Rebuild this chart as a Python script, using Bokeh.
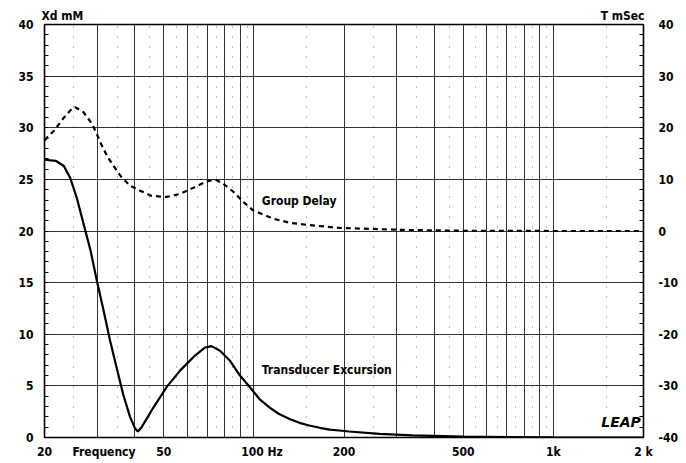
from bokeh.plotting import figure
from bokeh.models import (FixedTicker, LinearAxis, LogAxis, Range1d, Label)
from bokeh.embed import file_html
from bokeh.resources import INLINE

# ---- data ----
freq_gd = [20, 21.5, 23.1, 24.6, 25.3, 27.0, 28.8, 29.9, 30.7, 32.3, 34.0, 36.2, 38.6,
           41.7, 45.6, 51.2, 56.8, 62.9, 69.6, 74.2, 78.9, 85.4, 92.4, 99.4, 115.7,
           131.7, 150, 193, 249, 321, 500, 1000, 2000]
group_delay_ms = [17.6, 19.4, 21.8, 23.6, 24.0, 23.0, 20.8, 18.8, 17.2, 14.6, 12.6, 10.4, 8.8,
                  7.8, 6.8, 6.6, 7.2, 8.4, 9.6, 10.0, 9.2, 7.6, 5.6, 4.0, 2.4,
                  1.6, 1.2, 0.6, 0.4, 0.2, 0.05, 0.0, 0.0]

freq_xd = [20, 21.8, 23.2, 24.4, 25.7, 27.0, 28.5, 29.9, 31.5, 33.1, 34.8, 36.6, 38.6,
           40.2, 41.0, 42.2, 46.2, 51.2, 56.8, 62.9, 68.6, 72.2, 77.1, 83.4, 89.9,
           97.5, 104.2, 113, 121, 131.6, 142, 153, 166, 179, 193, 208, 263, 338,
           500, 1000, 2000]
excursion_mm = [26.9, 26.8, 26.3, 25.1, 23.1, 20.7, 18.1, 15.2, 12.3, 9.4, 6.8, 4.2, 2.0,
                0.84, 0.58, 1.0, 2.9, 4.9, 6.5, 7.8, 8.7, 8.85, 8.4, 7.4, 6.0,
                4.8, 3.75, 2.9, 2.3, 1.8, 1.42, 1.16, 0.94, 0.77, 0.68, 0.58, 0.36, 0.2,
                0.08, 0.02, 0.0]

# bottom labels (the "Frequency" caption and "100 Hz" sit at their text centres)
x_label_pos = [20, 31.6, 50, 106.5, 200, 500, 1000, 2000]
x_labels = ["20", "Frequency", "50", "100 Hz", "200", "500", "1k", "2 k"]
# captions above the frame
top_label_pos = [22.96, 1703]
top_labels = ["Xd mM", "T mSec"]

x_major_grid = [30, 40, 50, 60, 70, 80, 90, 100, 200, 300, 400, 500, 600, 700, 800, 900, 1000]
x_minor_grid = [25, 35, 45, 55, 65, 75, 85, 95, 150, 250, 350, 450, 550, 650, 750, 850, 950, 1500]
left_ticks = [0, 5, 10, 15, 20, 25, 30, 35, 40]
right_ticks = [-40, -30, -20, -10, 0, 10, 20, 30, 40]
right_labels = ["-40", "-30", "-20", "-10", "0", "10", "20", "30", "40"]

FONT = "DejaVu Sans Condensed"

p = figure(x_axis_type="log", x_range=Range1d(20, 2000), y_range=Range1d(0, 40),
           frame_width=599, frame_height=413, output_backend="svg",
           toolbar_location=None, min_border_left=44, min_border_right=42,
           min_border_top=24, min_border_bottom=25, background_fill_color="white",
           border_fill_color="white")
p.extra_y_ranges = {"T": Range1d(-40, 40)}

p.outline_line_color = "black"
p.outline_line_width = 1.6

# x axis
xa = p.xaxis[0]
xa.ticker = FixedTicker(ticks=x_label_pos)
xa.major_label_overrides = {t: l for t, l in zip(x_label_pos, x_labels)}
xa.major_label_standoff = 7

# top caption axis
ta = LogAxis(ticker=FixedTicker(ticks=top_label_pos),
             major_label_overrides={t: l for t, l in zip(top_label_pos, top_labels)})
ta.major_label_standoff = 2
p.add_layout(ta, "above")

# left axis
ya = p.yaxis[0]
ya.ticker = FixedTicker(ticks=left_ticks, minor_ticks=list(range(0, 41)))
ya.major_label_standoff = 11

# right axis
ra = LinearAxis(y_range_name="T",
                ticker=FixedTicker(ticks=right_ticks, minor_ticks=list(range(-40, 41, 2))),
                major_label_overrides={t: l for t, l in zip(right_ticks, right_labels)})
ra.major_label_standoff = 15
p.add_layout(ra, "right")

for ax in [xa, ya, ra, ta]:
    ax.axis_line_color = None
    ax.major_tick_line_color = None
    ax.minor_tick_line_color = None
    ax.major_tick_out = 0
    ax.major_tick_in = 0
    ax.major_label_text_font = FONT
    ax.major_label_text_font_style = "bold"
    ax.major_label_text_font_size = "12px"
    ax.major_label_text_color = "black"

for ax in [ya, ra]:
    ax.minor_tick_in = 4
    ax.minor_tick_out = 0
    ax.minor_tick_line_color = "black"

# grids
p.xgrid.ticker = FixedTicker(ticks=x_major_grid, minor_ticks=x_minor_grid)
p.xgrid.grid_line_color = "#333333"
p.xgrid.grid_line_alpha = 1
p.xgrid.grid_line_width = 1
p.xgrid.minor_grid_line_color = "#777777"
p.xgrid.minor_grid_line_width = 1
p.xgrid.minor_grid_line_dash = "1 9"
p.ygrid.ticker = FixedTicker(ticks=[5, 10, 15, 20, 25, 30, 35])
p.ygrid.grid_line_color = "#333333"
p.ygrid.grid_line_alpha = 1
p.ygrid.grid_line_width = 1

# curves
p.line(freq_xd, excursion_mm, line_color="black", line_width=2.2)
p.line(freq_gd, group_delay_ms, y_range_name="T", line_color="black",
       line_width=2.2, line_dash="5 4")

# in-frame annotations
def lab(x, y, text, align="left", baseline="middle", size="12px", style="bold",
        font=FONT):
    p.add_layout(Label(x=x, y=y, text=text, text_align=align, text_baseline=baseline,
                       text_font=font, text_font_size=size, text_font_style=style,
                       text_color="black"))

lab(106.3, 22.9, "Group Delay")
lab(106.3, 6.5, "Transducer Excursion")
lab(1960, 0.7, "LEAP", align="right", baseline="bottom", size="14px",
    style="bold italic", font="DejaVu Sans")

open("out.html", "w").write(file_html(p, INLINE))
